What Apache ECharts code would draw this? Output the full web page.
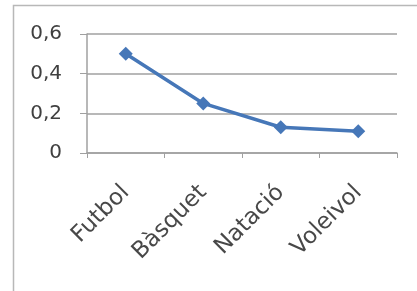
<!DOCTYPE html>
<html><head><meta charset="utf-8">
<script src="https://cdn.jsdelivr.net/npm/echarts@6/dist/echarts.min.js"></script>
<style>html,body{margin:0;padding:0;background:#fff}#c{width:417px;height:291px}</style>
</head><body><div id="c"></div>
<script>
const categories = ['Futbol', 'Bàsquet', 'Natació', 'Voleivol'];
const values = [0.5, 0.25, 0.13, 0.11];
const yTicks = [0, 0.2, 0.4, 0.6];

const chart = echarts.init(document.getElementById('c'), null, {renderer: 'canvas'});
chart.setOption({
  animation: false,
  backgroundColor: '#fff',
  graphic: [{
    type: 'rect', shape: {x: 13.5, y: 5.5, width: 420, height: 300},
    style: {fill: 'none', stroke: '#b8b8b8', lineWidth: 1.5}, silent: true
  }],
  grid: {left: 87, right: 20, top: 34, bottom: 138, containLabel: false},
  xAxis: {
    type: 'category', data: categories, boundaryGap: true,
    axisLine: {lineStyle: {color: '#a0a0a0', width: 1.5}},
    axisTick: {show: true, length: 5, lineStyle: {color: '#a0a0a0'}},
    axisLabel: {rotate: 45, margin: 36, color: '#484848', fontSize: 23, fontFamily: 'DejaVu Sans, sans-serif'}
  },
  yAxis: {
    type: 'value', min: 0, max: 0.6, interval: 0.2,
    axisLine: {show: true, lineStyle: {color: '#a0a0a0', width: 1.5}},
    axisTick: {show: true, length: 7, lineStyle: {color: '#a0a0a0'}},
    splitLine: {lineStyle: {color: '#a0a0a0', width: 1.5}},
    axisLabel: {
      margin: 25, color: '#404040', fontSize: 20, fontFamily: 'DejaVu Sans, sans-serif',
      formatter: v => yTicks.includes(Math.round(v * 10) / 10) ? String(Math.round(v * 10) / 10).replace('.', ',') : ''
    }
  },
  series: [{
    type: 'line', data: values,
    symbol: 'diamond', symbolSize: 14,
    lineStyle: {color: '#4677b8', width: 3.5},
    itemStyle: {color: '#4677b8'}
  }]
});
</script></body></html>
